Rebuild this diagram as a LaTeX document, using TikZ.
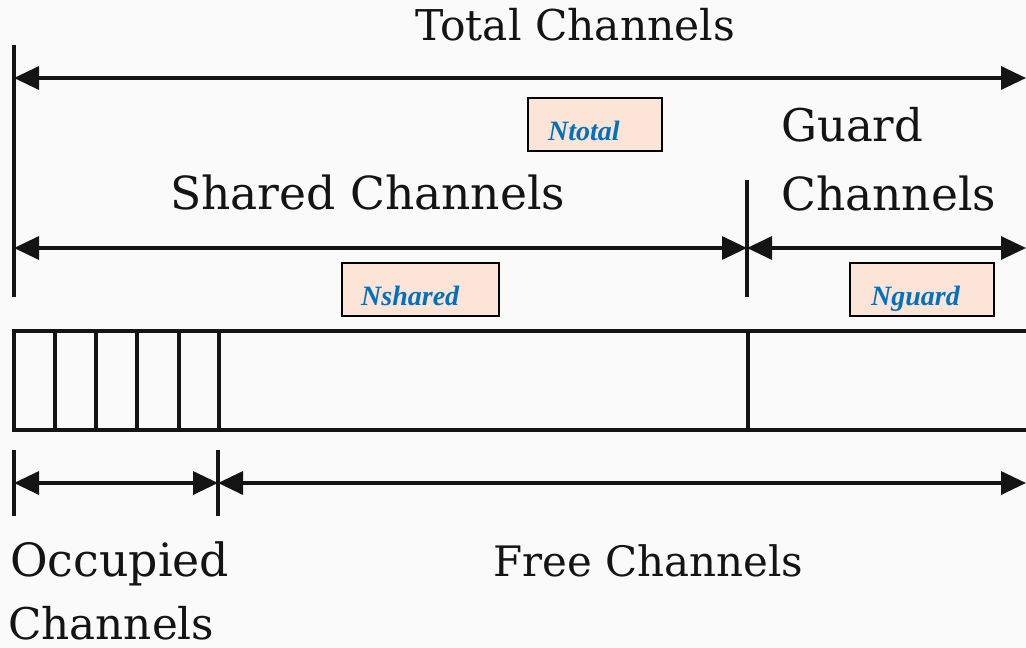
\documentclass[tikz,border=0pt]{standalone}
\usepackage{fontspec}
\setmainfont{DejaVu Serif}
\newfontfamily\tagfont{Liberation Serif}
\usetikzlibrary{arrows.meta}
\definecolor{paper}{RGB}{250,250,250}
\definecolor{ink}{RGB}{20,20,20}
\definecolor{peach}{RGB}{252,228,214}
\definecolor{tagblue}{RGB}{0,112,192}
\begin{document}
\begin{tikzpicture}[x=1pt,y=-1pt,
  rule/.style={line width=3.2pt, draw=ink},
  tick/.style={line width=3.4pt, draw=ink},
  dim/.style={line width=3.4pt, draw=ink,
    {Triangle[length=25pt,width=23pt]}-{Triangle[length=25pt,width=23pt]}},
  caption/.style={inner sep=0pt, anchor=base west, text=ink},
  tagbox/.style={draw=black, line width=2pt, fill=peach, inner sep=0pt},
  tagtext/.style={inner sep=0pt, anchor=base west, text=tagblue,
    font=\tagfont\bfseries\itshape\fontsize{28}{30}\selectfont},
]
\fill[paper] (0,0) rectangle (1026,648);
\useasboundingbox (0,0) rectangle (1026,648);

% ---- dimension ticks ----
\coordinate (t0top) at (14,45);   \coordinate (t0bot) at (14,297);
\coordinate (t1top) at (747,180); \coordinate (t1bot) at (747,297);
\coordinate (b0top) at (14,450);  \coordinate (b0bot) at (14,516);
\coordinate (b1top) at (218,450); \coordinate (b1bot) at (218,516);
\draw[tick] (t0top) -- (t0bot);
\draw[tick] (t1top) -- (t1bot);
\draw[tick] (b0top) -- (b0bot);
\draw[tick] (b1top) -- (b1bot);

% ---- dimension arrows ----
\coordinate (totL) at (14,78);    \coordinate (totR) at (1026,78);
\coordinate (shL) at (14,248);    \coordinate (shR) at (747,248);
\coordinate (guL) at (747,248);   \coordinate (guR) at (1026,248);
\coordinate (ocL) at (14,483);    \coordinate (ocR) at (218,483);
\coordinate (frL) at (218,483);   \coordinate (frR) at (1026,483);
\draw[dim] (totL) -- (totR);
\draw[dim] (shL) -- (shR);
\draw[dim] (guL) -- (guR);
\draw[dim] (ocL) -- (ocR);
\draw[dim] (frL) -- (frR);

% ---- channel bar (open to the right) ----
\coordinate (barTR) at (1026,331);
\coordinate (barTL) at (14,331);
\coordinate (barBL) at (14,430);
\coordinate (barBR) at (1026,430);
\draw[rule] (barTR) -- (barTL) -- (barBL) -- (barBR);
\foreach \x in {55,96,137,179,219,748}
  \draw[rule] (\x,331) -- (\x,430);

% ---- captions ----
\node[caption] (total) at (415,40) {\resizebox{320pt}{!}{Total Channels}};
\node[caption] (shared) at (170,209) {\resizebox{395pt}{!}{Shared Channels}};
\node[caption] (guard1) at (781,141) {\resizebox{142pt}{!}{Guard}};
\node[caption] (guard2) at (781,210) {\resizebox{215pt}{!}{Channels}};
\node[caption] (occ1) at (10,576) {\resizebox{219pt}{!}{Occupied}};
\node[caption] (occ2) at (8,639) {\resizebox{206pt}{!}{Channels}};
\node[caption] (free) at (493,576) {\resizebox{310pt}{!}{Free Channels}};

% ---- quantity tags ----
\node[tagbox, minimum width=134pt, minimum height=53pt, anchor=north west]
  (ntotal) at (527,97) {};
\node[tagtext] (ntotalT) at ([xshift=21pt,yshift=12pt]ntotal.south west) {Ntotal};
\node[tagbox, minimum width=157pt, minimum height=53pt, anchor=north west]
  (nshared) at (341,262) {};
\node[tagtext] (nsharedT) at ([xshift=20pt,yshift=12pt]nshared.south west) {Nshared};
\node[tagbox, minimum width=144pt, minimum height=53pt, anchor=north west]
  (nguard) at (849,262) {};
\node[tagtext] (nguardT) at ([xshift=22pt,yshift=12pt]nguard.south west) {Nguard};
\end{tikzpicture}
\end{document}
